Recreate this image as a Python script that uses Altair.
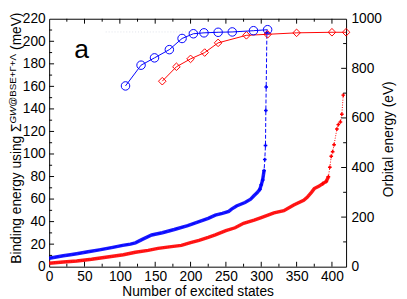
import altair as alt
import pandas as pd

# ---------------- data ----------------
# Binding energies (meV, left axis)
circ_n = [108, 130, 149, 170, 188, 204, 219, 239, 259, 289, 309]
circ_e = [160.4, 178.8, 185.3, 192.6, 202.5, 206.7, 207.5, 208.0, 208.3, 209.4, 210.3]
diam_n = [160, 180, 200, 220, 239, 279, 309, 350, 400, 420]
diam_e = [164.6, 177.4, 184.4, 190.0, 198.6, 205.3, 206.2, 207.5, 208.0, 208.0]
faint_n = [80, 290]
faint_e = [208.3, 208.3]

# Orbital energies (eV, right axis)
blue_n = [0, 10, 20, 30, 39, 55, 71, 90, 104, 115, 122, 131, 145, 160, 177, 196, 212, 225,
          235, 245, 254, 258, 265, 277, 285, 290, 294, 298, 300, 302, 304, 305, 306, 306.5, 307, 308]
blue_e = [34, 39, 44, 48, 52, 60, 68, 78, 86, 91, 96, 109, 128, 137, 150, 166, 182, 195,
          208, 215, 223, 232, 245, 259, 272, 287, 298, 312, 330, 350, 388, 432, 489, 630, 725, 945]
red_n = [0, 20, 39, 60, 85, 105, 122, 140, 154, 170, 187, 200, 212, 225, 235, 250, 263, 275,
         290, 300, 318, 332, 346, 360, 365, 371, 375, 382, 387, 392, 395, 397, 399, 401, 403, 407,
         409, 412, 414, 416]
red_e = [14, 19, 23, 30, 40, 48, 58, 66, 74, 80, 86, 97, 106, 118, 128, 145, 157, 175,
         188, 198, 217, 226, 249, 268, 280, 300, 315, 325, 335, 344, 363, 401, 445, 464, 492, 555,
         573, 584, 615, 692]

x_labels = [0, 50, 100, 150, 200, 250, 300, 350, 400]
left_labels = [0, 20, 40, 60, 80, 100, 120, 140, 160, 180, 200, 220]
right_labels = [0, 200, 400, 600, 800, 1000]
x_major = [50, 100, 150, 200, 250, 300, 350, 400]
x_minor = [25, 75, 125, 175, 225, 275, 325, 375]
l_major = [20, 40, 60, 80, 100, 120, 140, 160, 180, 200]
l_minor = [10, 30, 50, 70, 90, 110, 130, 150, 170, 190, 210]
r_major = [200, 400, 600, 800]
r_minor = [100, 300, 500, 700, 900]

W, H = 303, 253
BLUE, RED = "#0000ff", "#ff0000"
FONT = "Liberation Sans"

xs = alt.Scale(domain=[0, 420], nice=False, zero=False)
ls = alt.Scale(domain=[0, 220], nice=False, zero=False)
rs = alt.Scale(domain=[0, 1000], nice=False, zero=False)

circ = pd.DataFrame({"n": circ_n, "e": circ_e})
diam = pd.DataFrame({"n": diam_n, "e": diam_e})
faint = pd.DataFrame({"n": faint_n, "e": faint_e})
blue = pd.DataFrame({"n": blue_n, "e": blue_e})
red = pd.DataFrame({"n": red_n, "e": red_e})

x_axis = alt.Axis(values=x_labels, title="Number of excited states", ticks=False, domain=False,
                  grid=False, labelFontSize=14, titleFontSize=14, titleFontWeight="normal",
                  labelPadding=3, titlePadding=1, labelFlush=False, labelColor="black",
                  titleColor="black", format="d", labelOverlap=False)
left_axis = alt.Axis(values=left_labels, title=None, ticks=False, domain=False, grid=False,
                     labelFontSize=14, labelPadding=4, labelFlush=False, labelColor="black",
                     labelOverlap=False, format="d")
right_axis = alt.Axis(values=right_labels, orient="right", title=None, ticks=False, domain=False,
                      grid=False, labelFontSize=14, labelPadding=5, labelFlush=False,
                      labelColor="black", labelOverlap=False, format="d")

X = alt.X("n:Q", scale=xs, axis=None)


def yl(axis=None):
    return alt.Y("e:Q", scale=ls, axis=axis)


def yr(axis=None):
    return alt.Y("e:Q", scale=rs, axis=axis)


layers = []

# faint dotted line
layers.append(alt.Chart(faint).mark_line(color="#dfe2ea", strokeWidth=1, strokeDash=[1, 2])
              .encode(x=X, y=yl()))

# orbital energies (right axis)
layers.append(alt.Chart(blue).transform_filter("datum.n <= 304")
              .mark_line(color=BLUE, strokeWidth=3.5, opacity=0.9)
              .encode(x=X, y=yr()))
layers.append(alt.Chart(blue).mark_line(color=BLUE, strokeWidth=1, strokeDash=[4, 2])
              .encode(x=X, y=yr()))
layers.append(alt.Chart(blue).transform_filter("datum.n >= 298")
              .mark_point(shape="cross", filled=True, color=BLUE, size=14, opacity=1)
              .encode(x=X, y=yr()))
layers.append(alt.Chart(red).transform_filter("datum.n <= 395")
              .mark_line(color=RED, strokeWidth=3.5, opacity=0.9)
              .encode(x=X, y=yr(right_axis)))
layers.append(alt.Chart(red).mark_line(color=RED, strokeWidth=1, strokeDash=[1, 1.5])
              .encode(x=X, y=yr()))
layers.append(alt.Chart(red).transform_filter("datum.n >= 387")
              .mark_point(shape="cross", filled=True, color=RED, size=14, opacity=1)
              .encode(x=X, y=yr()))

# binding energies (left axis)
layers.append(alt.Chart(diam).mark_line(color=RED, strokeWidth=1)
              .encode(x=X, y=yl()))
layers.append(alt.Chart(diam).mark_point(shape="diamond", filled=False, color=RED, size=60,
                                         strokeWidth=1, opacity=1)
              .encode(x=X, y=yl()))
layers.append(alt.Chart(circ).mark_line(color=BLUE, strokeWidth=1)
              .encode(x=X, y=yl()))
layers.append(alt.Chart(circ).mark_point(shape="circle", filled=False, color=BLUE, size=75,
                                         strokeWidth=1, opacity=1)
              .encode(x=alt.X("n:Q", scale=xs, axis=x_axis), y=yl(left_axis)))


# inner ticks on all four sides
def xticks(vals, length):
    df = pd.DataFrame({"n": vals})
    b = alt.Chart(df).mark_rule(color="black", strokeWidth=1).encode(
        x=X, y=alt.value(H), y2=alt.value(H - length))
    t = alt.Chart(df).mark_rule(color="black", strokeWidth=1).encode(
        x=X, y=alt.value(0), y2=alt.value(length))
    return [b, t]


def lticks(vals, length):
    df = pd.DataFrame({"e": vals})
    return [alt.Chart(df).mark_rule(color="black", strokeWidth=1).encode(
        y=yl(), x=alt.value(0), x2=alt.value(length))]


def rticks(vals, length):
    df = pd.DataFrame({"e": vals})
    return [alt.Chart(df).mark_rule(color="black", strokeWidth=1).encode(
        y=yr(), x=alt.value(W), x2=alt.value(W - length))]


layers += xticks(x_major, 5) + xticks(x_minor, 3)
layers += lticks(l_major, 5) + lticks(l_minor, 3)
layers += rticks(r_major, 5) + rticks(r_minor, 3)

# texts: y-axis titles and panel letter
ttl = pd.DataFrame({"t": ["Binding energy using \u03a3"]})
layers.append(alt.Chart(ttl).mark_text(angle=270, align="left", baseline="middle", fontSize=14,
                                       font=FONT, color="black")
              .encode(text="t:N", x=alt.value(-33), y=alt.value(250)))
sup1 = pd.DataFrame({"t": ["GW"]})
layers.append(alt.Chart(sup1).mark_text(angle=270, align="left", baseline="middle", fontSize=10,
                                        font=FONT, fontStyle="italic", color="black")
              .encode(text="t:N", x=alt.value(-36.5), y=alt.value(107)))
sup2 = pd.DataFrame({"t": ["@BSE+\u0393+\u039b"]})
layers.append(alt.Chart(sup2).mark_text(angle=270, align="left", baseline="middle", fontSize=10,
                                        font=FONT, color="black")
              .encode(text="t:N", x=alt.value(-36.5), y=alt.value(89.8)))
unit = pd.DataFrame({"t": ["(meV)"]})
layers.append(alt.Chart(unit).mark_text(angle=270, align="left", baseline="middle", fontSize=14,
                                        font=FONT, color="black")
              .encode(text="t:N", x=alt.value(-33), y=alt.value(31.8)))
rt = pd.DataFrame({"t": ["Orbital energy (eV)"]})
layers.append(alt.Chart(rt).mark_text(angle=270, align="center", baseline="middle", fontSize=14,
                                      font=FONT, color="black")
              .encode(text="t:N", x=alt.value(347), y=alt.value(123)))
lab = pd.DataFrame({"t": ["a"]})
layers.append(alt.Chart(lab).mark_text(align="center", baseline="middle", fontSize=27,
                                       font=FONT, color="black")
              .encode(text="t:N", x=alt.value(33), y=alt.value(32)))

chart = (
    alt.layer(*layers)
    .resolve_scale(y="independent")
    .resolve_axis(x="independent", y="independent")
    .properties(width=W, height=H,
                autosize=alt.AutoSizeParams(type="none"),
                padding={"left": 42, "top": 8, "right": 54, "bottom": 30})
    .configure(font=FONT)
    .configure_view(stroke="black", strokeWidth=1)
    .configure_axis(labelFont=FONT, titleFont=FONT)
)

chart.save("out.html", embed_options={"renderer": "svg", "actions": False})
